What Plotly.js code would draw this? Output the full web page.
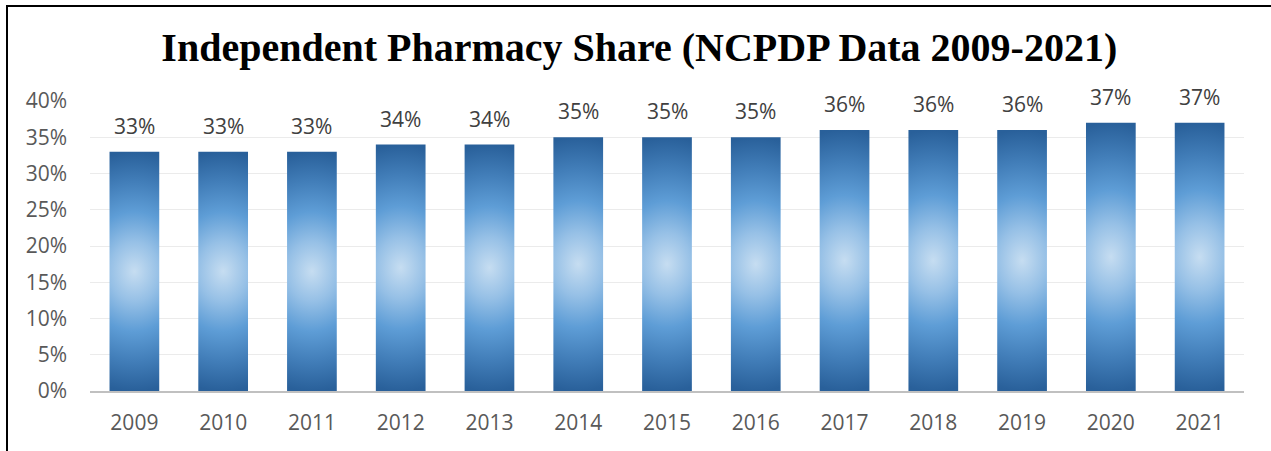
<!DOCTYPE html>
<html>
<head>
<meta charset="utf-8">
<script src="https://cdn.plot.ly/plotly-3.0.1.min.js"></script>
<style>
  html, body { margin: 0; padding: 0; background: #fff; }
  #wrap { position: relative; width: 1271px; height: 451px; overflow: hidden; }
  #chart { position: absolute; left: 0; top: 0; width: 1271px; height: 451px; }
  #frame { position: absolute; left: 6px; top: 5px; width: 1280px; height: 460px;
           border-left: 2px solid #000; border-top: 2px solid #000; pointer-events: none; }
</style>
</head>
<body>
<div id="wrap">
  <div id="chart"></div>
  <div id="frame"></div>
</div>
<script>
const years = ['2009','2010','2011','2012','2013','2014','2015','2016','2017','2018','2019','2020','2021'];
const share = [33, 33, 33, 34, 34, 35, 35, 35, 36, 36, 36, 37, 37];
const yTickVals = [0, 5, 10, 15, 20, 25, 30, 35, 40];
const yTickText = ['0%', '5%', '10%', '15%', '20%', '25%', '30%', '35%', '40%'];
const chartTitle = 'Independent Pharmacy Share (NCPDP Data 2009-2021)';

const labelFont = { family: 'Open Sans, sans-serif', size: 21, color: '#595959' };

const trace = {
  type: 'bar',
  x: years,
  y: share,
  marker: { color: '#5b9bd5', line: { width: 0 } },
  hoverinfo: 'none'
};

const annotations = years.map((yr, i) => ({
  x: i, y: share[i], xref: 'x', yref: 'y',
  text: share[i] + '%', showarrow: false,
  yanchor: 'bottom', yshift: 10,
  font: { family: 'Open Sans, sans-serif', size: 21, color: '#404040' }
}));

const layout = {
  width: 1271, height: 451,
  margin: { l: 90, r: 27, t: 101, b: 60 },
  paper_bgcolor: 'rgba(0,0,0,0)',
  plot_bgcolor: 'rgba(0,0,0,0)',
  title: {
    text: '<b>' + chartTitle + '</b>',
    xref: 'container', x: 0.503, xanchor: 'center',
    yref: 'container', y: 1 - 47 / 451, yanchor: 'middle',
    font: { family: 'Liberation Serif, Times New Roman, serif', size: 40, color: '#000' }
  },
  bargap: 0.44,
  showlegend: false,
  xaxis: {
    type: 'category',
    range: [-0.5, years.length - 0.5],
    autorange: false,
    tickfont: labelFont,
    showgrid: false,
    showline: true, linecolor: '#c0c0c0', linewidth: 2,
    ticks: '', ticklabelstandoff: 12,
    zeroline: false
  },
  yaxis: {
    range: [0, 40],
    autorange: false,
    tickvals: yTickVals, ticktext: yTickText,
    tickfont: labelFont,
    showgrid: true, gridcolor: '#ebebeb', gridwidth: 1,
    zeroline: false, showline: false,
    ticks: '', ticklabelstandoff: 22
  },
  annotations: annotations
};

Plotly.newPlot('chart', [trace], layout, { displayModeBar: false, staticPlot: true }).then(gd => {
  const svg = gd.querySelector('svg.main-svg');
  const ns = 'http://www.w3.org/2000/svg';
  let defs = svg.querySelector('defs');
  if (!defs) { defs = document.createElementNS(ns, 'defs'); svg.insertBefore(defs, svg.firstChild); }
  const grad = document.createElementNS(ns, 'radialGradient');
  grad.setAttribute('id', 'barGrad');
  grad.setAttribute('gradientUnits', 'objectBoundingBox');
  grad.setAttribute('cx', '0'); grad.setAttribute('cy', '0'); grad.setAttribute('r', '1');
  grad.setAttribute('gradientTransform', 'translate(0.5,0.5) scale(2,0.5)');
  const stops = [
    [0, '#c6ddf1'], [0.25, '#96c0e6'], [0.5, '#5e9dd6'], [0.75, '#427eb9'], [1, '#29609a']
  ];
  stops.forEach(([o, c]) => {
    const s = document.createElementNS(ns, 'stop');
    s.setAttribute('offset', o); s.setAttribute('stop-color', c);
    grad.appendChild(s);
  });
  defs.appendChild(grad);
  gd.querySelectorAll('.barlayer .point path').forEach(p => { p.style.fill = 'url(#barGrad)'; });
});
</script>
</body>
</html>
